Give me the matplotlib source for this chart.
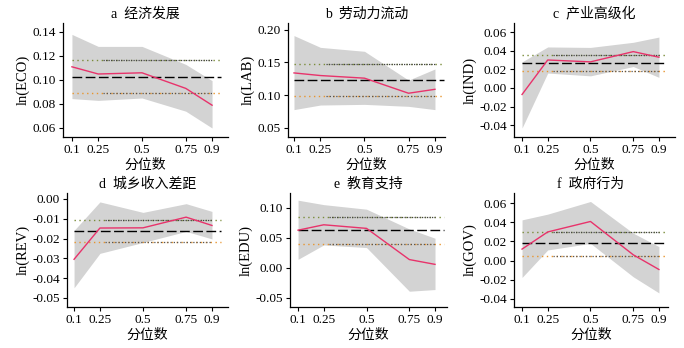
import numpy as np
import matplotlib.pyplot as plt

plt.rcParams['font.family'] = ['Liberation Serif', 'Noto Sans CJK SC']
plt.rcParams['axes.unicode_minus'] = False

quantiles = [0.1, 0.25, 0.5, 0.75, 0.9]
titles = ["a  经济发展", "b  劳动力流动", "c  产业高级化",
          "d  城乡收入差距", "e  教育支持", "f  政府行为"]
ylabels = ["ln(ECO)", "ln(LAB)", "ln(IND)", "ln(REV)", "ln(EDU)", "ln(GOV)"]

# quantile regression estimates
qr_coef = [
    [0.111, 0.105, 0.106, 0.093, 0.079],
    [0.134, 0.130, 0.126, 0.103, 0.109],
    [-0.007, 0.030, 0.028, 0.039, 0.033],
    [-0.0305, -0.0147, -0.0146, -0.0092, -0.0134],
    [0.063, 0.072, 0.066, 0.014, 0.006],
    [0.012, 0.030, 0.041, 0.006, -0.0094],
]
qr_upper = [
    [0.138, 0.128, 0.128, 0.113, 0.0995],
    [0.191, 0.173, 0.167, 0.123, 0.140],
    [0.028, 0.044, 0.0435, 0.049, 0.0546],
    [-0.0159, -0.0015, -0.0068, -0.0024, -0.0063],
    [0.113, 0.1056, 0.098, 0.065, 0.0496],
    [0.0427, 0.0487, 0.062, 0.0287, 0.0146],
]
qr_lower = [
    [0.0845, 0.083, 0.085, 0.074, 0.060],
    [0.078, 0.085, 0.086, 0.083, 0.078],
    [-0.043, 0.016, 0.013, 0.023, 0.0114],
    [-0.0449, -0.0275, -0.022, -0.0164, -0.0202],
    [0.0144, 0.0384, 0.034, -0.0388, -0.036],
    [-0.0178, 0.0111, 0.018, -0.0171, -0.034],
]
# OLS estimate and its confidence bounds
ols_coef = [0.1028, 0.1232, 0.0269, -0.0163, 0.063, 0.0181]
ols_upper = [0.1164, 0.1473, 0.0359, -0.0105, 0.0855, 0.0301]
ols_lower = [0.0892, 0.0991, 0.0179, -0.0219, 0.0407, 0.0047]

yticks = [
    [0.06, 0.08, 0.10, 0.12, 0.14],
    [0.05, 0.10, 0.15, 0.20],
    [-0.04, -0.02, 0.00, 0.02, 0.04, 0.06],
    [-0.05, -0.04, -0.03, -0.02, -0.01, 0.00],
    [-0.05, 0.00, 0.05, 0.10],
    [-0.04, -0.02, 0.00, 0.02, 0.04, 0.06],
]

# layout: axes boxes in pixels (left, right, top, bottom) and limits
W, H = 684, 348
boxes = [(63, 228, 23, 137), (288, 445, 23, 137), (514, 675, 23, 137),
         (67, 228, 193, 307), (290, 447, 193, 307), (514, 668, 193, 307)]
xlims = [(0.049, 0.991), (0.066, 0.957), (0.053, 0.994),
         (0.059, 0.993), (0.053, 0.97), (0.053, 0.953)]
ylims = [(0.0525, 0.1475), (0.0362, 0.2102), (-0.0526, 0.0697),
         (-0.0546, 0.003), (-0.0651, 0.125), (-0.0488, 0.0709)]

fig = plt.figure(figsize=(W / 100, H / 100), dpi=100)

for i in range(6):
    l, r, t, b = boxes[i]
    ax = fig.add_axes([l / W, 1 - b / H, (r - l) / W, (b - t) / H])

    ax.fill_between(quantiles, qr_lower[i], qr_upper[i], color='#d3d3d3', lw=0)
    ax.plot(quantiles, qr_coef[i], color='#e8336b', lw=1.0, zorder=3)

    x0, x1 = 0.1, 0.95
    ax.plot([x0, x1], [ols_coef[i]] * 2, color='black', lw=1.0,
            dashes=(7, 2.5), zorder=2)
    ax.plot([x0, x1], [ols_upper[i]] * 2, color='#7a8c3a', lw=1.0,
            ls=(0, (1, 2.5)), zorder=2)
    ax.plot([0.28, 0.9], [ols_upper[i]] * 2, color='#444444', lw=0.9,
            ls=(0, (1, 1)), zorder=2)
    ax.plot([x0, x1], [ols_lower[i]] * 2, color='#e8952e', lw=1.0,
            ls=(0, (1, 2.5)), zorder=2)
    ax.plot([0.28, 0.9], [ols_lower[i]] * 2, color='#555555', lw=0.9,
            ls=(0, (1, 1.6)), zorder=2)

    ax.set_xlim(*xlims[i])
    ax.set_ylim(*ylims[i])
    ax.set_xticks(quantiles)
    ax.set_xticklabels(["0.1", "0.25", "0.5", "0.75", "0.9"])
    ax.set_yticks(yticks[i])
    ax.set_yticklabels([f"{v:.2f}" for v in yticks[i]])
    ax.tick_params(labelsize=9.5, length=3, width=0.8, direction='out', pad=2)
    for s in ['top', 'right']:
        ax.spines[s].set_visible(False)
    for s in ['left', 'bottom']:
        ax.spines[s].set_linewidth(0.9)
    ax.set_title(titles[i], fontsize=10, pad=4)
    ax.set_xlabel("分位数", fontsize=10, labelpad=2)
    ax.set_ylabel(ylabels[i], fontsize=10.5, labelpad=2)

fig.savefig("out.png", dpi=100)
